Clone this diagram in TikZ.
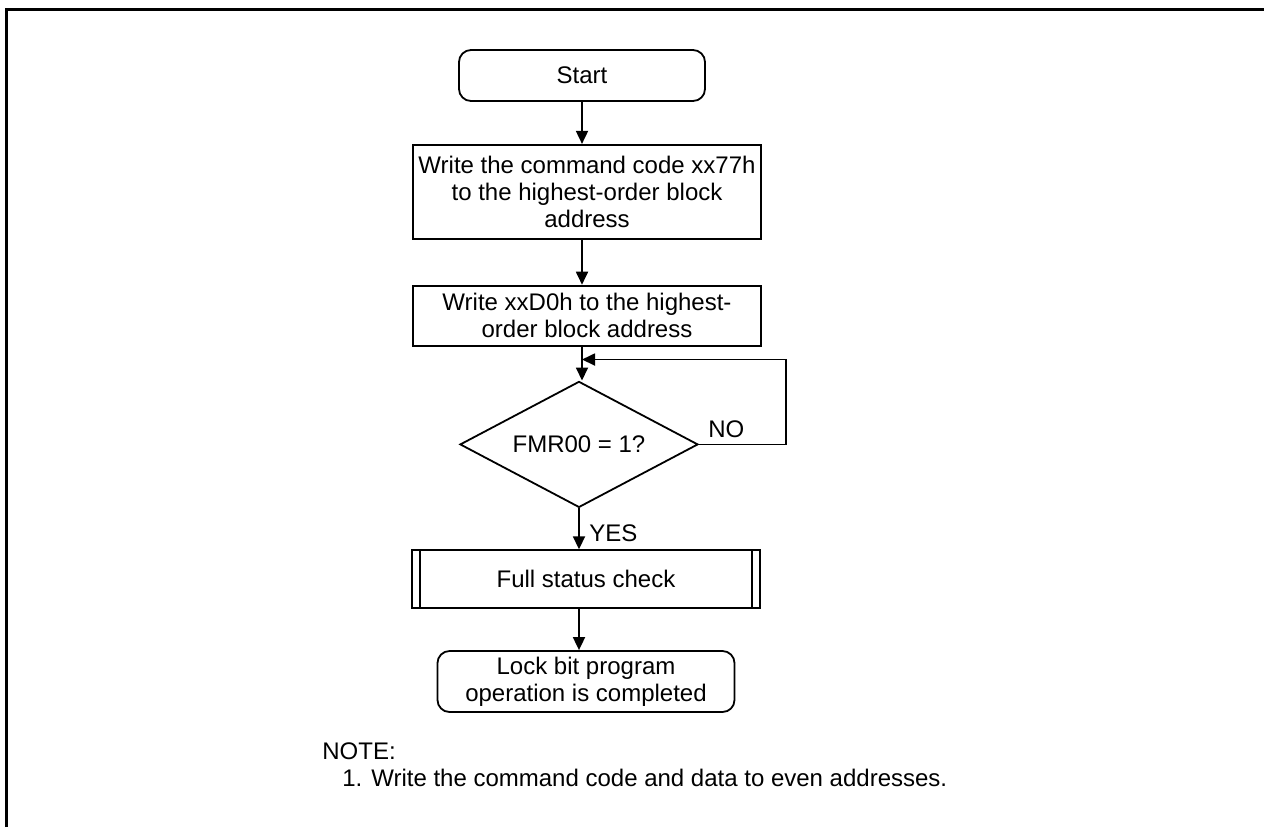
\documentclass[tikz,border=0pt]{standalone}
\usepackage{fontspec}
\setmainfont{Liberation Sans}
\usepackage{xcolor}
\usepackage{tikz}
\usetikzlibrary{arrows.meta, positioning, shapes.geometric}

\begin{document}
\begin{tikzpicture}[
  x=0.5pt, y=-0.5pt,
  font=\fontsize{12}{13.5}\selectfont,
  box/.style={draw, line width=0.9pt, align=center, inner sep=1pt, minimum width=174pt},
  term/.style={box, rounded corners=6pt},
  decision/.style={draw, line width=0.9pt, diamond, aspect=1.89, inner sep=0pt, minimum width=119pt, minimum height=63pt},
  label/.style={inner sep=0pt},
  arrow/.style={-{Triangle[length=6.5pt, width=6pt]}, line width=0.9pt}
]
\useasboundingbox (0,0) rectangle (1264,827);

% Frame
\draw[line width=1.5pt] (6.5,827) -- (6.5,9.5) -- (1264,9.5);

% Nodes
\node[term, minimum width=123pt, minimum height=25.5pt] (n1) at (582,75.5) {Start};
\node[box, minimum height=47pt, below=21pt of n1, xshift=2.5pt] (n2) {Write the command code xx77h\\to the highest-order block\\address};
\node[box, minimum height=30pt, below=22.5pt of n2] (n3) {Write xxD0h to the highest-\\order block address};
\node[decision, below=17pt of n3, xshift=-4pt] (n4) {FMR00 = 1?};
\node[box, minimum height=29pt, below=20.5pt of n4, xshift=3.5pt] (n5) {Full status check};
\node[term, minimum width=148.5pt, minimum height=30.5pt, below=20.5pt of n5] (n6) {Lock bit program\\operation is completed};

\draw[line width=0.9pt] ([xshift=4.5pt]n5.north west) -- ([xshift=4.5pt]n5.south west);
\draw[line width=0.9pt] ([xshift=-4.5pt]n5.north east) -- ([xshift=-4.5pt]n5.south east);

% Labels
\node[label, anchor=west] (no) at (708,429) {NO};
\node[label, anchor=west] (yes) at (589,533) {YES};
\node[label, anchor=west] (note) at (322,751) {NOTE:};
\node[label, anchor=west] (note1) at (342,778) {1. Write the command code and data to even addresses.};

% Pointers
\draw[arrow] (n1) -- (n1 |- n2.north);
\draw[arrow] (n1 |- n2.south) -- (n1 |- n3.north);
\draw[arrow] (n1 |- n3.south) -- (n1 |- n4.north);
\draw[arrow] (n4.east) -- ++(87,0) |- ([yshift=-6.5pt]n3.south -| n1);
\draw[arrow] (n4.south) -- (n4.south |- n5.north);
\draw[arrow] (n4.south |- n5.south) -- (n4.south |- n6.north);

\end{tikzpicture}
\end{document}
